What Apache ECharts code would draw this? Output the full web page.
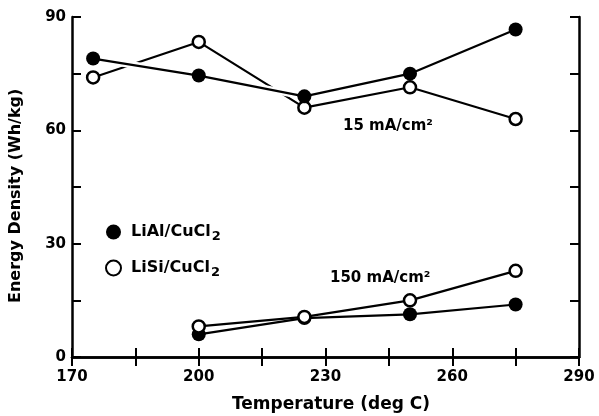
<!DOCTYPE html>
<html>
<head>
<meta charset="utf-8">
<script src="https://cdn.jsdelivr.net/npm/echarts@6/dist/echarts.min.js"></script>
<style>
html,body{margin:0;padding:0;background:#fff;}
#chart{width:599px;height:416px;}
</style>
</head>
<body>
<div id="chart"></div>
<script>
// ---- data ----
const tempsHigh = [175, 200, 225, 250, 275];          // 15 mA/cm2 temperatures
const liAl15 = [79, 74.5, 69, 75, 86.7];               // LiAl/CuCl2 @ 15 mA/cm2
const liSi15 = [74, 83.4, 66, 71.4, 63];               // LiSi/CuCl2 @ 15 mA/cm2
const tempsLow = [200, 225, 250, 275];                 // 150 mA/cm2 temperatures
const liAl150 = [6, 10.3, 11.3, 13.9];                 // LiAl/CuCl2 @ 150 mA/cm2
const liSi150 = [8.1, 10.6, 15, 22.8];                 // LiSi/CuCl2 @ 150 mA/cm2
const xTickLabels = [170, 200, 230, 260, 290];
const yTickLabels = [0, 30, 60, 90];
const nameAl = 'LiAl/CuCl2';
const nameSi = 'LiSi/CuCl2';

const pairs = (xs, ys) => xs.map((x, i) => [x, ys[i]]);
const FONT = 'DejaVu Sans';

const chart = echarts.init(document.getElementById('chart'), null, {renderer: 'canvas'});

const axisLine = {show: true, lineStyle: {color: '#000', width: 2.5}};
const tick = {show: true, inside: true, length: 9, lineStyle: {color: '#000', width: 2}};
const lblStyle = {color: '#000', fontFamily: FONT, fontWeight: 'bold', fontSize: 15};

const filledItem = {color: '#000'};
const openItem = {color: '#fff', borderColor: '#000', borderWidth: 2.5};
const lineSt = {color: '#000', width: 2.2};

const option = {
  animation: false,
  backgroundColor: '#fff',
  grid: {left: 72, right: 20, top: 17, bottom: 59},
  xAxis: [{
    type: 'value', min: 170, max: 290, interval: 15,
    axisLine: axisLine, axisTick: tick, splitLine: {show: false},
    axisLabel: Object.assign({margin: 13, showMinLabel: true, showMaxLabel: true,
      formatter: v => xTickLabels.includes(v) ? String(v) : ''}, lblStyle)
  }, {
    type: 'value', position: 'top', min: 170, max: 290, interval: 15,
    axisLine: axisLine, axisTick: tick, splitLine: {show: false}, axisLabel: {show: false}
  }],
  yAxis: [{
    type: 'value', min: 0, max: 90, interval: 15,
    axisLine: axisLine, axisTick: tick, splitLine: {show: false},
    axisLabel: Object.assign({margin: 6, showMinLabel: true, showMaxLabel: true,
      formatter: v => yTickLabels.includes(v) ? String(v) : ''}, lblStyle)
  }, {
    type: 'value', position: 'right', min: 0, max: 90, interval: 15,
    axisLine: axisLine, axisTick: tick, splitLine: {show: false}, axisLabel: {show: false}
  }],
  legend: {
    data: [{name: nameAl, icon: 'circle'}, {name: nameSi, icon: 'circle'}],
    orient: 'vertical', left: 100, top: 216,
    itemWidth: 15, itemHeight: 15, itemGap: 14,
    formatter: n => n.slice(0, -1) + '{sub|2}',
    textStyle: {
      color: '#000', fontFamily: FONT, fontWeight: 'bold', fontSize: 16, lineHeight: 20,
      padding: [0, 0, 0, 5],
      rich: {sub: {color: '#000', fontFamily: FONT, fontWeight: 'bold', fontSize: 13, lineHeight: 20, padding: [9, 0, 0, 1]}}
    }
  },
  series: [
    {name: nameSi, type: 'line', z: 2, data: pairs(tempsHigh, liSi15),
     symbol: 'circle', symbolSize: 12, itemStyle: openItem, lineStyle: lineSt},
    {name: 'halo', type: 'line', z: 3, data: pairs(tempsHigh, liAl15),
     symbol: 'none', lineStyle: {color: '#fff', width: 7}, silent: true},
    {name: nameAl, type: 'line', z: 4, data: pairs(tempsHigh, liAl15),
     symbol: 'circle', symbolSize: 14, itemStyle: filledItem, lineStyle: lineSt},
    {name: nameAl, type: 'line', z: 4, data: pairs(tempsLow, liAl150),
     symbol: 'circle', symbolSize: 14, itemStyle: filledItem, lineStyle: lineSt},
    {name: nameSi, type: 'line', z: 5, data: pairs(tempsLow, liSi150),
     symbol: 'circle', symbolSize: 12, itemStyle: openItem, lineStyle: lineSt}
  ],
  graphic: [
    {type: 'text', left: 343, top: 119,
     style: {text: '15 mA/cm²', fill: '#000', font: 'bold 15px "DejaVu Sans"'}},
    {type: 'text', left: 330, top: 271,
     style: {text: '150 mA/cm²', fill: '#000', font: 'bold 15px "DejaVu Sans"'}},
    {type: 'text', x: 232, y: 396,
     style: {text: 'Temperature (deg C)', fill: '#000', font: 'bold 17px "DejaVu Sans"'}},
    {type: 'text', x: 8, y: 303, rotation: Math.PI / 2,
     style: {text: 'Energy Density (Wh/kg)', fill: '#000', font: 'bold 16px "DejaVu Sans"'}}
  ]
};
chart.setOption(option);
</script>
</body>
</html>
